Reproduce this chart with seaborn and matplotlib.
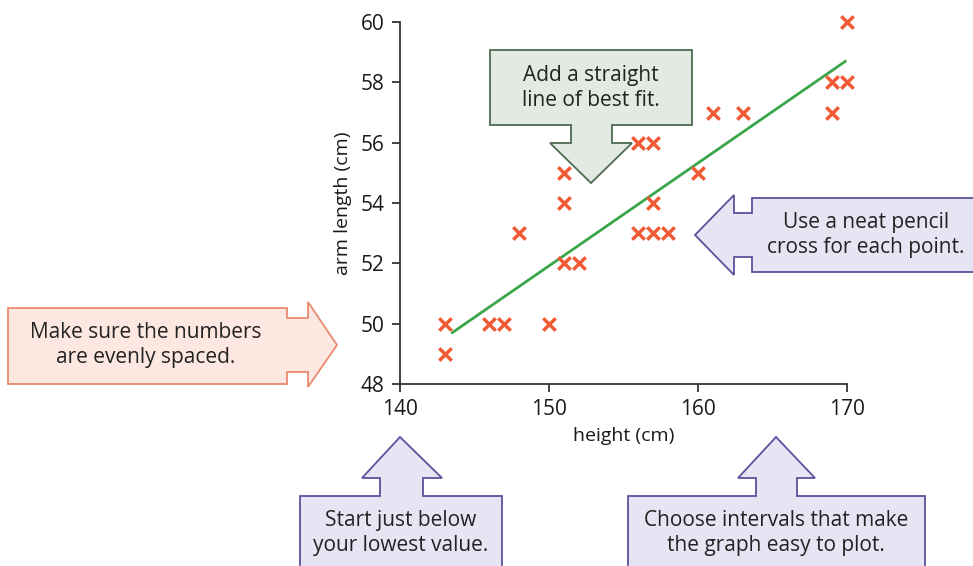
import matplotlib
matplotlib.use("Agg")
import matplotlib.pyplot as plt
from matplotlib.patches import Polygon
import seaborn as sns
import pandas as pd

# data
height_cm = [143, 143, 146, 147, 148, 150, 151, 151, 151, 152, 156, 157,
             156, 157, 158, 157, 160, 161, 163, 169, 170, 169, 170]
arm_cm = [50, 49, 50, 50, 53, 50, 55, 54, 52, 52, 56, 56,
          53, 53, 53, 54, 55, 57, 57, 58, 58, 57, 60]
fit_x = [143.5, 169.9]
fit_y = [49.7, 58.7]
x_ticks = [140, 150, 160, 170]
y_ticks = [48, 50, 52, 54, 56, 58, 60]

df = pd.DataFrame({"height": height_cm, "arm": arm_cm})
fit = pd.DataFrame({"height": fit_x, "arm": fit_y})

W, H = 973, 566
sns.set_theme(style="ticks")
plt.rcParams["font.family"] = ["Open Sans", "DejaVu Sans"]

fig = plt.figure(figsize=(W / 100, H / 100), dpi=100)
ax = fig.add_axes([400 / W, 1 - 384 / H, (847 - 400) / W, (384 - 22) / H])

sns.lineplot(data=fit, x="height", y="arm", ax=ax, color="#3aa64a", linewidth=2, zorder=2)
sns.scatterplot(data=df, x="height", y="arm", ax=ax, marker="x", s=80, color="#f05a35",
                linewidth=2.5, zorder=3, clip_on=False)

ax.set_xlim(140, 170)
ax.set_ylim(48, 60)
ax.set_xticks(x_ticks)
ax.set_yticks(y_ticks)
ax.tick_params(labelsize=15, colors="#333333", labelcolor="#1a1a1a", length=6, width=1.3, pad=5)
ax.set_xlabel("height (cm)", fontsize=14, color="#1a1a1a", labelpad=5)
ax.set_ylabel("arm length (cm)", fontsize=14, color="#1a1a1a", labelpad=6)
for s in ["left", "bottom"]:
    ax.spines[s].set_color("#333333")
    ax.spines[s].set_linewidth(1.3)
sns.despine(ax=ax)


def callout(pts, fc, ec):
    xy = [(px / W, 1 - py / H) for px, py in pts]
    fig.patches.append(Polygon(xy, closed=True, transform=fig.transFigure,
                               facecolor=fc, edgecolor=ec, linewidth=1.3, zorder=1))


def label(x, y, s):
    fig.text(x / W, 1 - y / H, s, ha="center", va="center", fontsize=15,
             color="#222222", linespacing=1.2)


lav, lav_edge = "#e7e4f4", "#5b519c"

# green: down arrow
callout([(490, 50), (692, 50), (692, 125), (612, 125), (612, 143), (632, 143),
         (591, 183), (550, 143), (571, 143), (571, 125), (490, 125)], "#e2eae2", "#4d6b50")
label(591, 88, "Add a straight\nline of best fit.")

# purple: left arrow
callout([(695, 235), (734, 195), (734, 213), (752, 213), (752, 198), (975, 198),
         (975, 272), (752, 272), (752, 257), (734, 257), (734, 275)], lav, lav_edge)
label(866, 235, "Use a neat pencil\ncross for each point.")

# salmon: right arrow
callout([(8, 308), (287, 308), (287, 318), (308, 318), (308, 302), (337, 345),
         (308, 387), (308, 372), (287, 372), (287, 384), (8, 384)], "#fde8e1", "#e98a6e")
label(146, 345, "Make sure the numbers\nare evenly spaced.")

# purple: up arrows under the axis
callout([(300, 570), (300, 496), (380, 496), (380, 478), (362, 478), (400, 437),
         (442, 478), (423, 478), (423, 496), (502, 496), (502, 570)], lav, lav_edge)
label(401, 533, "Start just below\nyour lowest value.")

callout([(628, 570), (628, 496), (756, 496), (756, 478), (738, 478), (776, 437),
         (815, 478), (797, 478), (797, 496), (925, 496), (925, 570)], lav, lav_edge)
label(776, 533, "Choose intervals that make\nthe graph easy to plot.")

fig.savefig("out.png", dpi=100)
